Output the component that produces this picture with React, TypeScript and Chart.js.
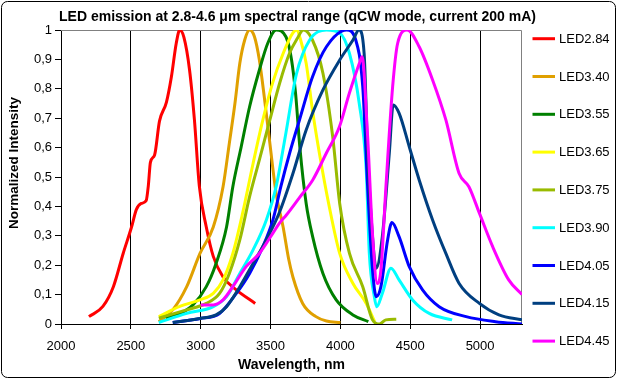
import React, { useEffect, useRef } from 'react';
import { Chart, registerables } from 'chart.js';

Chart.register(...registerables);

const TITLE = 'LED emission at 2.8-4.6 \u03bcm spectral range (qCW mode, current 200 mA)';
const X_TITLE = 'Wavelength, nm';
const Y_TITLE = 'Normalized Intensity';
const X_TICKS = [2000, 2500, 3000, 3500, 4000, 4500, 5000];
const Y_TICK_LABELS = ['0', '0,1', '0,2', '0,3', '0,4', '0,5', '0,6', '0,7', '0,8', '0,9', '1'];

const SERIES_NAMES = ['LED2.84', 'LED3.40', 'LED3.55', 'LED3.65', 'LED3.75', 'LED3.90', 'LED4.05', 'LED4.15', 'LED4.45'];
const SERIES_COLORS = ['#ff0000', '#e0a000', '#008000', '#ffff00', '#99bb00', '#00ffff', '#0000ff', '#003f80', '#ff00ff'];

const LED2_84: [number, number][] = [
  [2200, 0.025], [2300, 0.06], [2375, 0.127], [2445, 0.24], [2505, 0.33], [2540, 0.39], [2575, 0.41], [2610, 0.42],
  [2625, 0.47], [2640, 0.55], [2670, 0.575], [2705, 0.69], [2755, 0.755], [2790, 0.84], [2825, 0.955], [2850, 1.0],
  [2880, 0.975], [2920, 0.865], [2955, 0.695], [2990, 0.47], [3040, 0.33], [3090, 0.23], [3160, 0.16], [3255, 0.116], [3390, 0.07],
];
const LED3_40: [number, number][] = [
  [2700, 0.008], [2800, 0.048], [2900, 0.127], [2995, 0.24], [3090, 0.33], [3160, 0.467], [3205, 0.615], [3245, 0.75],
  [3280, 0.887], [3315, 0.966], [3350, 1.0], [3385, 0.977], [3420, 0.898], [3455, 0.773], [3495, 0.615], [3540, 0.444],
  [3590, 0.33], [3630, 0.22], [3660, 0.16], [3730, 0.07], [3825, 0.025], [3900, 0.01], [4000, 0.005],
];
const LED3_55: [number, number][] = [
  [2750, 0.02], [2850, 0.035], [2945, 0.065], [3040, 0.127], [3110, 0.206], [3185, 0.33], [3230, 0.467], [3290, 0.603],
  [3350, 0.739], [3420, 0.864], [3480, 0.955], [3540, 1.0], [3610, 0.977], [3650, 0.9], [3680, 0.78], [3710, 0.6],
  [3755, 0.41], [3800, 0.3], [3875, 0.172], [3970, 0.082], [4090, 0.031], [4200, 0.008],
];
const LED3_65: [number, number][] = [
  [2700, 0.025], [2850, 0.06], [2995, 0.082], [3090, 0.104], [3160, 0.15], [3230, 0.24], [3300, 0.377], [3375, 0.546],
  [3445, 0.694], [3515, 0.82], [3590, 0.92], [3660, 0.99], [3690, 1.0], [3710, 0.975], [3755, 0.887], [3800, 0.728],
  [3850, 0.58], [3920, 0.4], [3995, 0.24], [4090, 0.138], [4185, 0.07], [4245, 0.008],
];
const LED3_75: [number, number][] = [
  [2700, 0.02], [2900, 0.048], [3040, 0.07], [3135, 0.104], [3205, 0.172], [3280, 0.286], [3350, 0.433], [3420, 0.558],
  [3495, 0.694], [3565, 0.819], [3635, 0.92], [3690, 0.97], [3735, 1.0], [3800, 0.966], [3875, 0.853], [3945, 0.637],
  [3995, 0.41], [4065, 0.24], [4160, 0.127], [4230, 0.014], [4280, 0.0], [4325, 0.014], [4400, 0.016],
];
const LED3_90: [number, number][] = [
  [2700, 0.005], [2900, 0.036], [3090, 0.059], [3185, 0.093], [3280, 0.172], [3375, 0.252], [3470, 0.354], [3540, 0.467],
  [3610, 0.65], [3685, 0.85], [3780, 0.966], [3900, 1.0], [3995, 0.99], [4065, 0.92], [4135, 0.75], [4185, 0.524],
  [4207, 0.24], [4243, 0.093], [4260, 0.059], [4300, 0.104], [4362, 0.19], [4420, 0.15], [4517, 0.082], [4636, 0.036], [4800, 0.014],
];
const LED4_05: [number, number][] = [
  [2800, 0.005], [2995, 0.019], [3135, 0.036], [3255, 0.104], [3350, 0.172], [3445, 0.263], [3517, 0.354], [3575, 0.47],
  [3636, 0.58], [3707, 0.694], [3800, 0.84], [3900, 0.943], [4045, 1.0], [4110, 0.966], [4160, 0.807], [4195, 0.467],
  [4230, 0.184], [4257, 0.093], [4290, 0.127], [4338, 0.286], [4369, 0.345], [4420, 0.297], [4493, 0.195], [4588, 0.116],
  [4707, 0.059], [4900, 0.025], [5110, 0.008], [5300, 0.0],
];
const LED4_15: [number, number][] = [
  [2800, 0.005], [2995, 0.019], [3110, 0.031], [3185, 0.059], [3280, 0.127], [3375, 0.206], [3470, 0.286], [3564, 0.38],
  [3659, 0.51], [3755, 0.66], [3875, 0.796], [3995, 0.898], [4090, 0.966], [4133, 1.0], [4170, 0.92], [4195, 0.58],
  [4230, 0.297], [4256, 0.19], [4300, 0.297], [4350, 0.58], [4378, 0.745], [4420, 0.717], [4493, 0.603], [4564, 0.49],
  [4660, 0.354], [4755, 0.24], [4850, 0.138], [4995, 0.07], [5135, 0.031], [5300, 0.014],
];
const LED4_45: [number, number][] = [
  [3000, 0.065], [3090, 0.065], [3160, 0.082], [3230, 0.127], [3325, 0.195], [3420, 0.24], [3517, 0.309], [3564, 0.343],
  [3612, 0.37], [3707, 0.43], [3802, 0.49], [3898, 0.58], [3993, 0.671], [4064, 0.785], [4136, 0.887], [4155, 0.909],
  [4195, 0.637], [4231, 0.297], [4264, 0.138], [4290, 0.184], [4326, 0.467], [4374, 0.807], [4410, 0.955], [4478, 1.0],
  [4564, 0.943], [4660, 0.83], [4755, 0.694], [4850, 0.512], [4920, 0.467], [4995, 0.377], [5090, 0.263], [5205, 0.15], [5300, 0.1],
];

const SERIES_DATA = [LED2_84, LED3_40, LED3_55, LED3_65, LED3_75, LED3_90, LED4_05, LED4_15, LED4_45];

const FONT = '"Liberation Sans", Arial, sans-serif';

const decorPlugin = {
  id: 'decor',
  beforeDatasetsDraw(chart: any) {
    const { ctx, chartArea } = chart;
    const { left, right, top, bottom } = chartArea;
    ctx.save();
    ctx.strokeStyle = '#808080';
    ctx.lineWidth = 1;
    ctx.beginPath();
    ctx.moveTo(left, Math.round(top) + 0.5);
    ctx.lineTo(Math.round(right) - 0.5, Math.round(top) + 0.5);
    ctx.lineTo(Math.round(right) - 0.5, bottom);
    ctx.stroke();
    ctx.restore();
  },
  afterDraw(chart: any) {
    const { ctx } = chart;
    ctx.save();
    // chart title
    ctx.fillStyle = '#000';
    ctx.font = `bold 14px ${FONT}`;
    ctx.textAlign = 'center';
    ctx.textBaseline = 'alphabetic';
    ctx.fillText(TITLE, 297.5, 20.5);
    // y axis title
    ctx.save();
    ctx.translate(14.5, 163);
    ctx.rotate(-Math.PI / 2);
    ctx.font = `bold 13.5px ${FONT}`;
    ctx.textAlign = 'center';
    ctx.textBaseline = 'middle';
    ctx.fillText(Y_TITLE, 0, 0);
    ctx.restore();
    // legend
    ctx.font = `13px ${FONT}`;
    ctx.textAlign = 'left';
    ctx.textBaseline = 'middle';
    SERIES_NAMES.forEach((name, i) => {
      const y = 38.7 + i * 37.8;
      ctx.strokeStyle = SERIES_COLORS[i];
      ctx.lineWidth = 3;
      ctx.beginPath();
      ctx.moveTo(532.5, y);
      ctx.lineTo(555, y);
      ctx.stroke();
      ctx.fillStyle = '#000';
      ctx.fillText(name, 559, y + 0.5);
    });
    // outer border
    ctx.strokeStyle = '#000';
    ctx.lineWidth = 1;
    const x0 = 1.5, y0 = 1.5, x1 = 615.5, y1 = 377.5, r = 6;
    ctx.beginPath();
    ctx.moveTo(x0 + r, y0);
    ctx.lineTo(x1 - r, y0);
    ctx.arcTo(x1, y0, x1, y0 + r, r);
    ctx.lineTo(x1, y1 - r);
    ctx.arcTo(x1, y1, x1 - r, y1, r);
    ctx.lineTo(x0 + r, y1);
    ctx.arcTo(x0, y1, x0, y1 - r, r);
    ctx.lineTo(x0, y0 + r);
    ctx.arcTo(x0, y0, x0 + r, y0, r);
    ctx.closePath();
    ctx.stroke();
    ctx.restore();
  },
};

export default function App() {
  const canvasRef = useRef<HTMLCanvasElement | null>(null);

  useEffect(() => {
    document.body.style.margin = '0';
    const canvas = canvasRef.current;
    if (!canvas) return;
    Chart.defaults.font.family = FONT;
    const n = SERIES_DATA.length;
    const chart = new Chart(canvas, {
      type: 'line',
      data: {
        datasets: SERIES_DATA.map((d, i) => ({
          label: SERIES_NAMES[i],
          data: d.map(([x, y]) => ({ x, y })),
          borderColor: SERIES_COLORS[i],
          backgroundColor: SERIES_COLORS[i],
          borderWidth: 3,
          pointRadius: 0,
          fill: false,
          cubicInterpolationMode: 'monotone' as const,
          order: n - 1 - i,
        })),
      },
      options: {
        responsive: false,
        animation: false,
        devicePixelRatio: 1,
        layout: { padding: { top: 30, right: 95, left: 0, bottom: 0 } },
        plugins: {
          legend: { display: false },
          title: { display: false },
          tooltip: { enabled: false },
        },
        scales: {
          x: {
            type: 'linear',
            min: 2000,
            max: 5300,
            afterFit: (scale: any) => { scale.height = 55; },
            afterBuildTicks: (scale: any) => { scale.ticks = X_TICKS.map((v) => ({ value: v })); },
            ticks: {
              color: '#000',
              font: { size: 13 },
              padding: 10,
              maxRotation: 0,
              callback: (v: any) => String(v),
            },
            grid: { color: '#000', lineWidth: 1, tickLength: 5, tickColor: '#000' },
            border: { display: true, color: '#000' },
            title: {
              display: true,
              text: X_TITLE,
              color: '#000',
              font: { size: 14, weight: 'bold' },
              padding: { top: 0, bottom: 5 },
            },
          },
          y: {
            type: 'linear',
            min: 0,
            max: 1,
            afterFit: (scale: any) => { scale.width = 61; },
            ticks: {
              stepSize: 0.1,
              color: '#000',
              font: { size: 13 },
              padding: 3,
              callback: (_v: any, idx: number) => Y_TICK_LABELS[idx],
            },
            grid: { drawOnChartArea: false, drawTicks: true, tickLength: 6, tickColor: '#000' },
            border: { display: true, color: '#000' },
            title: { display: false },
          },
        },
      },
      plugins: [decorPlugin],
    });
    return () => chart.destroy();
  }, []);

  return (
    <div style={{ position: 'absolute', left: 0, top: 0, width: 617, height: 379, background: '#fff' }}>
      <canvas ref={canvasRef} width={617} height={379} />
    </div>
  );
}
